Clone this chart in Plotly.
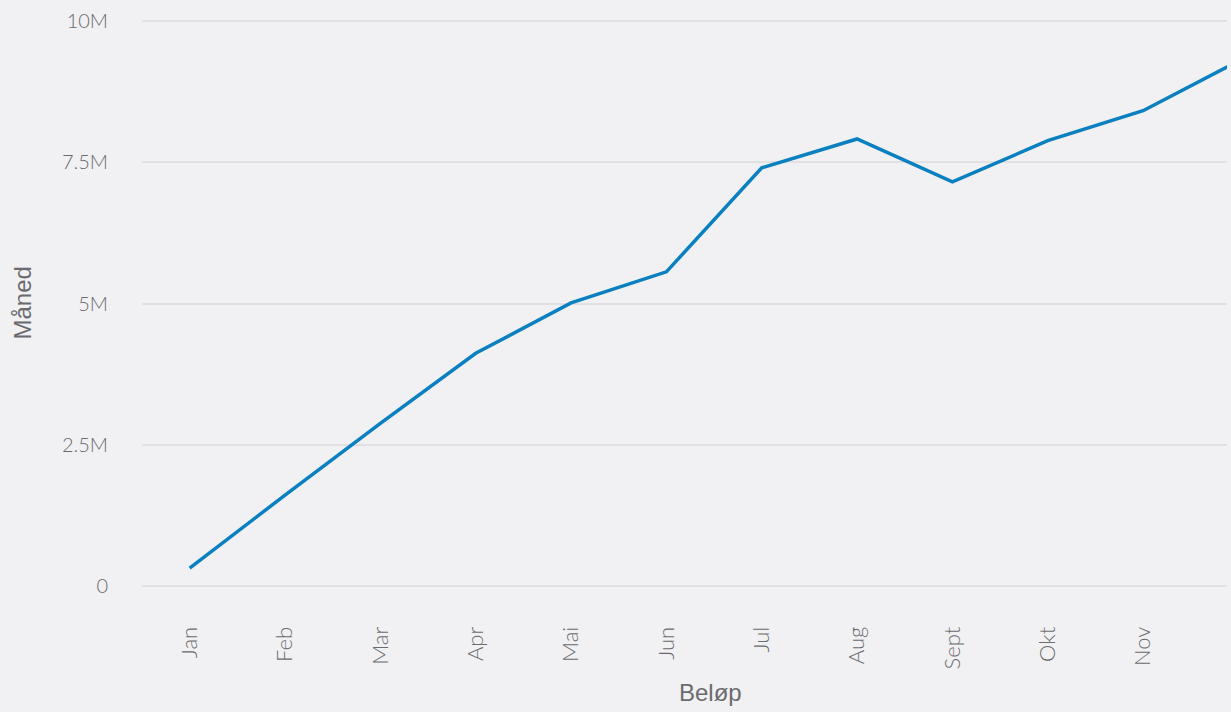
import plotly.graph_objects as go

months = ["Jan", "Feb", "Mar", "Apr", "Mai", "Jun", "Jul", "Aug", "Sept", "Okt", "Nov", "Des"]
values = [0.32e6, 1.61e6, 2.88e6, 4.12e6, 5.01e6, 5.56e6, 7.40e6, 7.91e6, 7.15e6, 7.88e6, 8.41e6, 9.29e6]
y_ticks = [0, 2.5e6, 5e6, 7.5e6, 10e6]
y_tick_text = ["0", "2.5M", "5M", "7.5M", "10M"]

fig = go.Figure(go.Scatter(
    x=months, y=values, mode="lines",
    line=dict(color="#0a80c0", width=3.5),
    hoverinfo="x+y",
))

grey = "#6b6b6f"
ytick_font = dict(family="Lato, Roboto, sans-serif", size=20, color=grey, weight=300)
xtick_font = dict(family="Lato, Roboto, sans-serif", size=22, color=grey, weight=300)
title_font = dict(family="Liberation Sans, Arial, sans-serif", size=24, color=grey)

fig.update_layout(
    width=1231, height=712,
    margin=dict(l=142, r=4, t=18, b=123),
    paper_bgcolor="#f1f1f3", plot_bgcolor="#f1f1f3",
    showlegend=False,
    xaxis=dict(
        type="category", range=[-0.5, 10.88],
        showgrid=False, zeroline=False, showline=False,
        tickangle=-90, tickfont=xtick_font,
        ticks="outside", ticklen=28, tickcolor="rgba(0,0,0,0)",
    ),
    yaxis=dict(
        range=[-0.05e6, 10.05e6], tickvals=y_ticks, ticktext=y_tick_text,
        showgrid=True, gridcolor="#e1e1e4", gridwidth=1.5,
        zeroline=False, showline=False, tickfont=ytick_font,
        ticks="outside", ticklen=29, tickcolor="rgba(0,0,0,0)",
    ),
    annotations=[
        dict(text="Beløp", xref="paper", yref="paper", x=0.524, y=0,
             yshift=-103, xanchor="center", yanchor="middle", showarrow=False,
             font=title_font),
        dict(text="Måned", xref="paper", yref="paper", x=0, y=0.5, textangle=-90,
             xshift=-120, xanchor="center", yanchor="middle", showarrow=False,
             font=title_font),
    ],
)

fig.write_html("out.html", config={"displayModeBar": False},
               post_script="document.body.style.margin='0';document.body.style.overflow='hidden';")
